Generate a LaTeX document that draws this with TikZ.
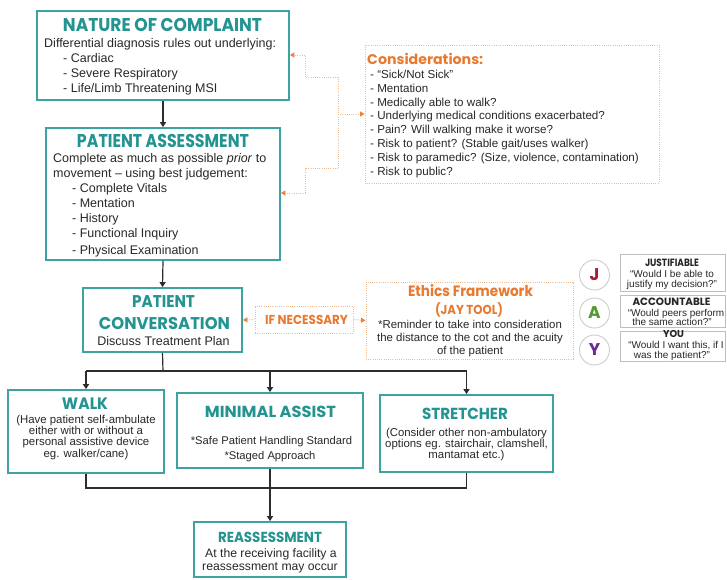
\documentclass[tikz,border=0pt]{standalone}
\usepackage{fontspec}
\usepackage{graphicx}
\setmainfont{Liberation Sans}
\newfontfamily\headfont{Poppins}
\usetikzlibrary{arrows.meta,fit}

\definecolor{tealline}{RGB}{60,163,160}
\definecolor{tealtext}{RGB}{35,148,145}
\definecolor{orangetext}{RGB}{232,122,48}
\definecolor{orangedots}{RGB}{240,188,145}
\definecolor{orangetip}{RGB}{236,130,60}
\definecolor{bodytext}{RGB}{40,40,40}
\definecolor{linkgray}{RGB}{45,45,45}
\definecolor{jgray}{RGB}{190,190,190}
\definecolor{cgray}{RGB}{205,205,205}
\definecolor{jred}{RGB}{160,30,60}
\definecolor{agreen}{RGB}{80,155,45}
\definecolor{ypurple}{RGB}{105,45,145}

% heading text squeezed to a given width, keeping its natural height
\newcommand\hd[3]{\resizebox{#1pt}{\height}{\headfont\bfseries\fontsize{#2}{#2}\selectfont #3}}
\newcommand\fs[1]{\fontsize{#1}{#1}\selectfont}

\tikzset{
  box/.style={draw=tealline, line width=1.8pt, inner sep=0pt, fill=white},
  obox/.style={draw=orangedots, line width=0.9pt, dash pattern=on 1pt off 1.2pt, inner sep=0pt},
  jbox/.style={draw=jgray, line width=0.8pt, inner sep=0pt},
  jcirc/.style={circle, draw=cgray, line width=0.9pt, minimum size=30pt, inner sep=0pt, font=\headfont\bfseries\fs{17}},
  hdt/.style={inner sep=0pt, text=tealtext, anchor=base},
  ohdt/.style={inner sep=0pt, text=orangetext, anchor=base},
  khdt/.style={inner sep=0pt, text=black!85, anchor=base},
  txt/.style={inner sep=0pt, text=bodytext, anchor=base west},
  ctxt/.style={inner sep=0pt, text=bodytext, anchor=base},
  link/.style={draw=linkgray, line width=1.2pt},
  larr/.style={link, -{Triangle[width=6pt,length=5pt]}},
  olink/.style={draw=orangedots, line width=0.9pt, dash pattern=on 1pt off 1.2pt},
  oarr/.style={olink, -{Triangle[width=5pt,length=4.5pt,color=orangetip]}},
}

\begin{document}
\begin{tikzpicture}[x=1pt,y=-1pt]
\fill[white] (0,0) rectangle (727,579);
\useasboundingbox (0,0) rectangle (727,579);

% ---------- boxes ----------
\node[box, fit={(37,11) (289,100)}] (noc) {};
\node[box, fit={(46,128) (280,260)}] (pa) {};
\node[box, fit={(83,288) (242,352)}] (pc) {};
\node[box, fit={(8,390) (164,473)}] (walk) {};
\node[box, fit={(177,393) (363,468)}] (ma) {};
\node[box, fit={(380,395) (553,472)}] (str) {};
\node[box, fit={(194,522) (346,577)}] (rea) {};
\node[obox, fit={(365,45) (659,183)}] (cons) {};
\node[obox, fit={(255,306) (353,333)}] (ifn) {};
\node[obox, fit={(366,282) (573,359)}] (eth) {};
\node[jbox, fit={(620,254) (725,291)}] (jb) {};
\node[jbox, fit={(620,295) (725,327)}] (ab) {};
\node[jbox, fit={(620,331) (725,361)}] (yb) {};
\node[jcirc, text=jred] (jc) at (594.5,275) {J};
\node[jcirc, text=agreen] (ac) at (594.5,313) {A};
\node[jcirc, text=ypurple] (yc) at (594.5,350) {Y};

% ---------- nature of complaint ----------
\node[hdt] (noc-t) at (162.5,31) {\hd{199}{18.5}{NATURE OF COMPLAINT}};
\node[txt, font=\fs{12.5}] (noc-a) at (44,47) {Differential diagnosis rules out underlying:};
\foreach \t [count=\i from 0] in {{- Cardiac},{- Severe Respiratory},{- Life/Limb Threatening MSI}}
  \node[txt, font=\fs{12.5}] (noc-l\i) at (63,62.3+15.3*\i) {\t};

% ---------- patient assessment ----------
\node[hdt] (pa-t) at (163,147) {\hd{172}{18.5}{PATIENT ASSESSMENT}};
\node[txt, font=\fs{12.5}] (pa-a) at (53,162.8) {Complete as much as possible \emph{prior} to};
\node[txt, font=\fs{12.5}] (pa-b) at (53,177.8) {movement – using best judgement:};
\foreach \t/\yy [count=\i] in {{- Complete Vitals}/192.8,{- Mentation}/207.2,{- History}/222.8,{- Functional Inquiry}/237.2,{- Physical Examination}/254.5}
  \node[txt, font=\fs{12.5}] (pa-l\i) at (72,\yy) {\t};

% ---------- patient conversation ----------
\node[hdt] (pc-t1) at (163.5,307) {\hd{63}{17}{PATIENT}};
\node[hdt] (pc-t2) at (164.5,329) {\hd{131}{17}{CONVERSATION}};
\node[ctxt, font=\fs{12.5}] (pc-a) at (163.5,345.5) {Discuss Treatment Plan};

% ---------- considerations ----------
\node[ohdt, anchor=base west] (cons-t) at (367,64) {\hd{116}{14}{Considerations:}};
\foreach \t [count=\i from 0] in {{- “Sick/Not Sick”},{- Mentation},{- Medically able to walk?},{- Underlying medical conditions exacerbated?},{- Pain? Will walking make it worse?},{- Risk to patient? (Stable gait/uses walker)},{- Risk to paramedic? (Size, violence, contamination)},{- Risk to public?}}
  \node[txt, font=\fs{11.6}] (cons-l\i) at (370,78.5+13.8*\i) {\t};

% ---------- if necessary / ethics ----------
\node[ohdt] (ifn-t) at (306.5,324) {\hd{83}{13}{IF NECESSARY}};
\node[ohdt] (eth-t1) at (470.5,296) {\hd{125}{15}{Ethics Framework}};
\node[ohdt] (eth-t2) at (469,314) {\hd{68}{13}{(JAY TOOL)}};
\foreach \t/\yy [count=\i] in {{*Reminder to take into consideration}/328,{the distance to the cot and the acuity}/341.5,{of the patient}/354.5}
  \node[ctxt, font=\fs{11.4}] (eth-l\i) at (470,\yy) {\t};

% ---------- JAY ----------
\node[khdt] (jb-t) at (672,266.5) {\hd{54}{10.5}{JUSTIFIABLE}};
\node[ctxt, font=\fs{10}] (jb-1) at (672,277.5) {“Would I be able to};
\node[ctxt, font=\fs{10}] (jb-2) at (672,287.5) {justify my decision?”};
\node[khdt] (ab-t) at (671.5,305.5) {\hd{78}{10.5}{ACCOUNTABLE}};
\node[ctxt, font=\fs{10}] (ab-1) at (676,316) {“Would peers perform};
\node[ctxt, font=\fs{10}] (ab-2) at (672,325.5) {the same action?”};
\node[khdt] (yb-t) at (673.5,337) {\hd{21}{10}{YOU}};
\node[ctxt, font=\fs{10}] (yb-1) at (676,348.5) {“Would I want this, if I};
\node[ctxt, font=\fs{10}] (yb-2) at (672,358) {was the patient?”};

% ---------- walk / minimal assist / stretcher ----------
\node[hdt] (walk-t) at (85,409) {\hd{46}{16.5}{WALK}};
\foreach \t/\yy [count=\i] in {{(Have patient self-ambulate}/423,{either with or without a}/434.3,{personal assistive device}/445.6,{eg. walker/cane)}/457}
  \node[ctxt, font=\fs{11.4}] (walk-l\i) at (86,\yy) {\t};
\node[hdt] (ma-t) at (270.5,417) {\hd{131}{16}{MINIMAL ASSIST}};
\node[ctxt, font=\fs{11.2}] (ma-l1) at (271.5,444) {*Safe Patient Handling Standard};
\node[ctxt, font=\fs{11.2}] (ma-l2) at (270,459) {*Staged Approach};
\node[hdt] (str-t) at (465,419) {\hd{86}{16}{STRETCHER}};
\foreach \t/\yy [count=\i] in {{(Consider other non-ambulatory}/436,{options eg. stairchair, clamshell,}/447,{mantamat etc.)}/458}
  \node[ctxt, font=\fs{11.4}] (str-l\i) at (466.5,\yy) {\t};

% ---------- reassessment ----------
\node[hdt] (rea-t) at (270,542) {\hd{104}{14.5}{REASSESSMENT}};
\node[ctxt, font=\fs{12.2}] (rea-l1) at (271,557) {At the receiving facility a};
\node[ctxt, font=\fs{12.2}] (rea-l2) at (270,570) {reassessment may occur};

% ---------- main flow ----------
\draw[larr] (noc.south) -- (pa.north);
\draw[larr] (pa.south) -- (pc.north);
\coordinate (split) at (163,371);
\draw[link] (pc.south) -- (split);
\draw[link] (split -| walk.north) -- (split -| str.north);
\draw[larr] (split -| walk.north) -- (walk.north);
\draw[larr] (split -| ma.north) -- (ma.north);
\draw[larr] (split -| str.north) -- (str.north);
\coordinate (merge) at (270,488);
\draw[link] (walk.south) |- (merge -| str.south) -- (str.south);
\draw[larr] (ma.south) -- (rea.north);

% ---------- considerations links ----------
\coordinate (hub) at (338,114);
\coordinate (hubtop) at (338,77);
\coordinate (hubbot) at (338,168);
\coordinate (jogtop) at (305,55);
\coordinate (jogbot) at (305,193);
\draw[olink] (hubtop) -- (hubbot);
\draw[oarr] (hub) -- (cons.west |- hub);
\draw[oarr] (hubtop) -| (jogtop) -- (noc.east |- jogtop);
\draw[oarr] (hubbot) -| (jogbot) -- (pa.east |- jogbot);

% ---------- if necessary links ----------
\draw[oarr] (ifn.west) -- (pc.east);
\draw[oarr] (ifn.east) -- (eth.west);
\end{tikzpicture}
\end{document}
